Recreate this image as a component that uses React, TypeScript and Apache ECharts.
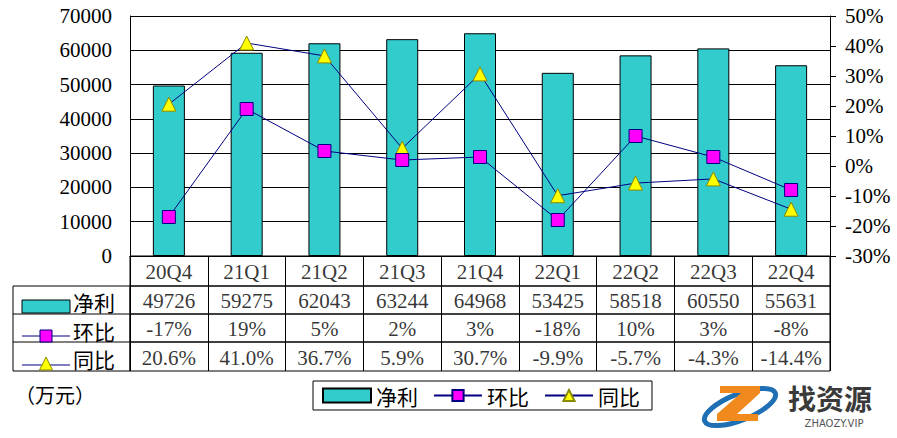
import React, { useEffect, useRef } from "react";
import * as echarts from "echarts";

const categories = ["20Q4", "21Q1", "21Q2", "21Q3", "21Q4", "22Q1", "22Q2", "22Q3", "22Q4"];
const netProfit = [49726, 59275, 62043, 63244, 64968, 53425, 58518, 60550, 55631];
const qoq = [-17, 19, 5, 2, 3, -18, 10, 3, -8];
const yoy = [20.6, 41.0, 36.7, 5.9, 30.7, -9.9, -5.7, -4.3, -14.4];
const seriesNames = ["净利", "环比", "同比"];
const unitLabel = "（万元）";

const FONT = "'Liberation Serif', 'Noto Sans CJK SC', serif";
const CJK = "'Noto Sans CJK SC', sans-serif";
const TEAL = "#33CCCC";
const NAVY = "#000080";
const MAGENTA = "#FF00FF";
const YELLOW = "#FFFF00";

const PLOT_LEFT = 130;
const PLOT_W = 700;
const rowTops = [256, 286, 314, 342];
const rowHeights = [30, 28, 28, 29];

export default function App() {
  const ref = useRef<HTMLDivElement>(null);
  useEffect(() => {
    if (!ref.current) return;
    const chart = echarts.init(ref.current, null, { renderer: "svg" });

    const rowTexts: string[][] = [
      categories,
      netProfit.map((v) => String(v)),
      qoq.map((v) => v + "%"),
      yoy.map((v) => v.toFixed(1) + "%"),
    ];

    const grids: any[] = [
      { left: PLOT_LEFT, top: 16, width: PLOT_W, height: 240, outerBoundsMode: "none", containLabel: false },
    ];
    const xAxes: any[] = [
      {
        type: "category",
        gridIndex: 0,
        data: categories,
        boundaryGap: true,
        axisLine: { show: true, lineStyle: { color: "#000", width: 1 } },
        axisTick: { show: false },
        axisLabel: { show: false },
        splitLine: { show: false },
      },
    ];
    const yAxes: any[] = [
      {
        type: "value",
        gridIndex: 0,
        min: 0,
        max: 70000,
        interval: 10000,
        axisLine: { show: true, lineStyle: { color: "#000" } },
        axisTick: { show: false },
        axisLabel: {
          margin: 18,
          fontSize: 21,
          fontFamily: FONT,
          color: "#000",
          formatter: (v: number) => String(v),
        },
        splitLine: { show: true, lineStyle: { color: "#000", width: 1 } },
      },
      {
        type: "value",
        gridIndex: 0,
        position: "right",
        min: -30,
        max: 50,
        interval: 10,
        axisLine: { show: true, lineStyle: { color: "#000" } },
        axisTick: { show: true, inside: false, length: 6, lineStyle: { color: "#000" } },
        axisLabel: { margin: 15, fontSize: 21, fontFamily: FONT, color: "#000", formatter: "{value}%" },
        splitLine: { show: false },
      },
    ];
    const rowSeries: any[] = [];
    rowTops.forEach((top, i) => {
      grids.push({
        left: PLOT_LEFT,
        top,
        width: PLOT_W,
        height: rowHeights[i],
        show: true,
        borderColor: "#000",
        borderWidth: 1,
        backgroundColor: "transparent",
        outerBoundsMode: "none",
        containLabel: false,
      });
      xAxes.push({
        type: "category",
        gridIndex: i + 1,
        data: categories,
        boundaryGap: true,
        axisLine: { show: false },
        axisTick: { show: false },
        axisLabel: { show: false },
        splitLine: { show: true, lineStyle: { color: "#000", width: 1 } },
      });
      yAxes.push({ type: "value", gridIndex: i + 1, min: 0, max: 1, show: false });
      const texts = rowTexts[i];
      rowSeries.push({
        type: "scatter",
        name: "row" + i,
        xAxisIndex: i + 1,
        yAxisIndex: i + 2,
        symbolSize: 1,
        itemStyle: { color: "rgba(0,0,0,0)" },
        data: categories.map((c) => [c, 0.5]),
        label: {
          show: true,
          position: "inside",
          offset: [0, 1],
          formatter: (p: any) => texts[p.dataIndex],
          fontSize: 21,
          fontFamily: FONT,
          color: "#000",
        },
        silent: true,
      });
    });

    const headerRows = [rowTops[1], rowTops[2], rowTops[3]];
    const graphics: any[] = [
      {
        type: "rect",
        shape: { x: 13, y: 286, width: 117, height: 85 },
        style: { fill: "none", stroke: "#000", lineWidth: 1 },
      },
      { type: "line", shape: { x1: 13, y1: 314, x2: 130, y2: 314 }, style: { stroke: "#000", lineWidth: 1 } },
      { type: "line", shape: { x1: 13, y1: 342, x2: 130, y2: 342 }, style: { stroke: "#000", lineWidth: 1 } },
      // header keys
      {
        type: "rect",
        shape: { x: 22, y: 300, width: 48, height: 13 },
        style: { fill: TEAL, stroke: "#000", lineWidth: 1 },
      },
      { type: "line", shape: { x1: 22, y1: 336, x2: 70, y2: 336 }, style: { stroke: NAVY, lineWidth: 1 } },
      {
        type: "rect",
        shape: { x: 40, y: 330, width: 12, height: 12 },
        style: { fill: MAGENTA, stroke: NAVY, lineWidth: 1 },
      },
      { type: "line", shape: { x1: 22, y1: 365, x2: 70, y2: 365 }, style: { stroke: NAVY, lineWidth: 1 } },
      {
        type: "polygon",
        shape: { points: [[46, 357], [39.5, 370], [52.5, 370]] },
        style: { fill: YELLOW, stroke: "#8a8a00", lineWidth: 1 },
      },
      {
        type: "text",
        x: 73,
        y: headerRows[0] + 16,
        style: { text: seriesNames[0], font: "21px " + CJK, fill: "#000", verticalAlign: "middle" },
      },
      {
        type: "text",
        x: 73,
        y: headerRows[1] + 17,
        style: { text: seriesNames[1], font: "21px " + CJK, fill: "#000", verticalAlign: "middle" },
      },
      {
        type: "text",
        x: 73,
        y: headerRows[2] + 17,
        style: { text: seriesNames[2], font: "21px " + CJK, fill: "#000", verticalAlign: "middle" },
      },
      {
        type: "text",
        x: 15,
        y: 394,
        style: { text: unitLabel, font: "20px " + CJK, fill: "#000", verticalAlign: "middle" },
      },
      // watermark logo
      {
        type: "ellipse",
        x: 740,
        y: 407,
        rotation: 0.38,
        shape: { cx: 0, cy: 0, rx: 38, ry: 13 },
        style: { fill: "none", stroke: "#1f6fb5", lineWidth: 5 },
      },
      {
        type: "polygon",
        shape: {
          points: [
            [720, 386], [760, 386], [760, 393], [737, 414], [758, 414],
            [758, 421], [717, 421], [717, 414], [741, 393], [720, 393],
          ],
        },
        style: { fill: "#f08a1c" },
      },
      {
        type: "text",
        x: 788,
        y: 383,
        style: { text: "找资源", font: "bold 28px " + CJK, fill: "#3a3a3a", verticalAlign: "top", lineHeight: 30 },
      },
      {
        type: "text",
        x: 834,
        y: 418,
        style: {
          text: "ZHAOZY.VIP",
          font: "10px 'DejaVu Sans', sans-serif",
          fill: "#555",
          align: "center",
          verticalAlign: "top",
          lineHeight: 10,
        },
      },
    ];

    chart.setOption({
      animation: false,
      backgroundColor: "#fff",
      legend: {
        data: [
          { name: seriesNames[0], icon: "rect" },
          { name: seriesNames[1] },
          { name: seriesNames[2] },
        ],
        left: 313,
        top: 381,
        orient: "horizontal",
        itemWidth: 48,
        itemHeight: 14,
        itemGap: 15,
        padding: [4, 12, 4, 9],
        borderColor: "#000",
        borderWidth: 1,
        textStyle: { fontSize: 21, fontFamily: CJK, color: "#000" },
      },
      grid: grids,
      xAxis: xAxes,
      yAxis: yAxes,
      graphic: graphics,
      series: [
        {
          name: seriesNames[0],
          type: "bar",
          xAxisIndex: 0,
          yAxisIndex: 0,
          data: netProfit,
          barWidth: 32,
          itemStyle: { color: TEAL, borderColor: "#000", borderWidth: 1 },
        },
        {
          name: seriesNames[2],
          type: "line",
          xAxisIndex: 0,
          yAxisIndex: 1,
          data: yoy,
          symbol: "triangle",
          symbolSize: 14,
          lineStyle: { color: NAVY, width: 1 },
          itemStyle: { color: YELLOW, borderColor: "#8a8a00", borderWidth: 1 },
        },
        {
          name: seriesNames[1],
          type: "line",
          xAxisIndex: 0,
          yAxisIndex: 1,
          data: qoq,
          symbol: "rect",
          symbolSize: 13,
          lineStyle: { color: NAVY, width: 1 },
          itemStyle: { color: MAGENTA, borderColor: NAVY, borderWidth: 1 },
        },
        ...rowSeries,
      ],
    });
    return () => chart.dispose();
  }, []);
  return (
    <div
      ref={ref}
      style={{ position: "absolute", left: 0, top: 0, width: 897, height: 438 }}
    />
  );
}
